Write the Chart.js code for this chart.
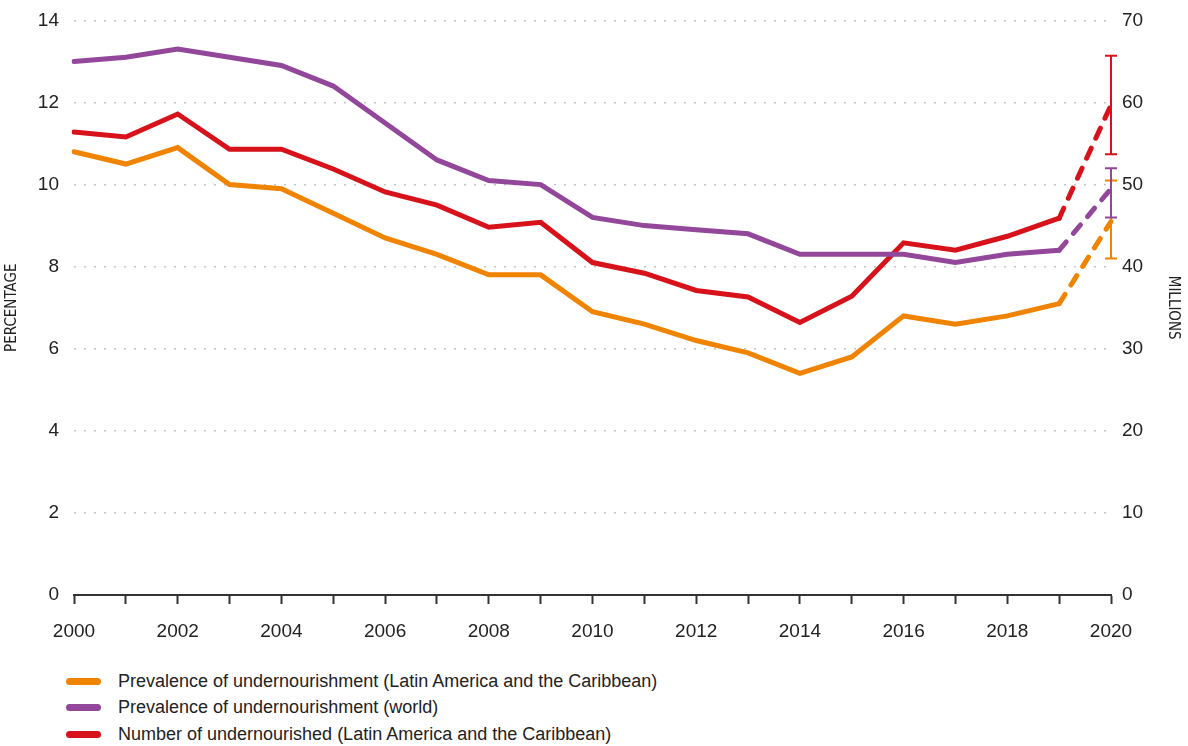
<!DOCTYPE html>
<html>
<head>
<meta charset="utf-8">
<script src="https://cdn.jsdelivr.net/npm/chart.js@4.4.1/dist/chart.umd.min.js"></script>
<style>
  body { margin: 0; background: #fff; }
  #wrap { position: relative; width: 1188px; height: 656px; margin-top: -6px; }
  #legend { position: absolute; left: 66px; top: 668px; font-family: "Liberation Sans", Arial, sans-serif; font-size: 18px; color: #222; }
  #legend div { height: 26.5px; display: flex; align-items: center; }
  #legend span.sw { display: inline-block; width: 35px; height: 7px; border-radius: 3.5px; margin-right: 17px; }
</style>
</head>
<body>
<div id="wrap"><canvas id="graph-1"></canvas></div>
<div id="legend"></div>
<script>
const graphOne = document.getElementById("graph-1");

const years = [
  "2000", "2001", "2002", "2003", "2004", "2005", "2006", "2007", "2008", "2009",
  "2010", "2011", "2012", "2013", "2014", "2015", "2016", "2017", "2018", "2019", "2020",
];

// percent, Latin America and the Caribbean
const prevalenceLac = [10.8, 10.5, 10.9, 10.0, 9.9, 9.3, 8.7, 8.3, 7.8, 7.8, 6.9, 6.6, 6.2, 5.9, 5.4, 5.8, 6.8, 6.6, 6.8, 7.1, 9.1];
// percent, world
const prevalenceWorld = [13.0, 13.1, 13.3, 13.1, 12.9, 12.4, 11.5, 10.6, 10.1, 10.0, 9.2, 9.0, 8.9, 8.8, 8.3, 8.3, 8.3, 8.1, 8.3, 8.4, 9.9];
// millions, Latin America and the Caribbean
const numberLac = [56.4, 55.8, 58.6, 54.3, 54.3, 51.9, 49.1, 47.5, 44.8, 45.4, 40.5, 39.2, 37.1, 36.3, 33.2, 36.4, 42.9, 42.0, 43.7, 45.9, 59.7];

// 2020 projection ranges [low, high]
const rangeLac = [8.2, 10.1];
const rangeWorld = [9.2, 10.4];
const rangeNumber = [53.7, 65.7];

const leftTicks = [0, 2, 4, 6, 8, 10, 12, 14];
const rightTicks = [0, 10, 20, 30, 40, 50, 60, 70];

const seriesLabels = [
  "Prevalence of undernourishment (Latin America and the Caribbean)",
  "Prevalence of undernourishment (world)",
  "Number of undernourished (Latin America and the Caribbean)",
];
const colors = ["#f08300", "#92479a", "#d7121b"];

const tickFont = { family: "'Liberation Sans', Arial, sans-serif", size: 19 };
const titleFont = { family: "'DejaVu Sans Condensed', 'Liberation Sans', Arial, sans-serif", size: 15 };

function lineDataset(label, data, color, axis, range) {
  return {
    label: label,
    data: data,
    yAxisID: axis,
    borderColor: color,
    backgroundColor: color,
    borderWidth: 5,
    pointRadius: 0,
    tension: 0,
    borderCapStyle: "round",
    borderJoinStyle: "miter",
    range: range,
    segment: {
      borderDash: (ctx) => (ctx.p1DataIndex === data.length - 1 ? [11, 11] : undefined),
    },
  };
}

const errorBars = {
  id: "errorBars",
  afterDatasetsDraw(chart) {
    const ctx = chart.ctx;
    chart.data.datasets.forEach((ds) => {
      const scale = chart.scales[ds.yAxisID];
      const x = chart.scales.x.getPixelForValue(ds.data.length - 1);
      const yLow = scale.getPixelForValue(ds.range[0]);
      const yHigh = scale.getPixelForValue(ds.range[1]);
      ctx.save();
      ctx.strokeStyle = ds.borderColor;
      ctx.lineWidth = 2;
      ctx.beginPath();
      ctx.moveTo(x, yLow);
      ctx.lineTo(x, yHigh);
      ctx.moveTo(x - 6, yLow);
      ctx.lineTo(x + 6, yLow);
      ctx.moveTo(x - 6, yHigh);
      ctx.lineTo(x + 6, yHigh);
      ctx.stroke();
      ctx.restore();
    });
  },
};

new Chart(graphOne, {
  type: "line",
  data: {
    labels: years,
    datasets: [
      lineDataset(seriesLabels[0], prevalenceLac, colors[0], "y", rangeLac),
      lineDataset(seriesLabels[1], prevalenceWorld, colors[1], "y", rangeWorld),
      lineDataset(seriesLabels[2], numberLac, colors[2], "y1", rangeNumber),
    ],
  },
  options: {
    responsive: true,
    maintainAspectRatio: false,
    animation: false,
    layout: { padding: { top: 10, left: 0, right: 0, bottom: 0 } },
    plugins: {
      legend: { display: false },
      tooltip: { enabled: false },
    },
    scales: {
      x: {
        type: "category",
        offset: false,
        afterFit: (s) => { s.height = 55; },
        border: { display: true, color: "#333", width: 2 },
        grid: { drawOnChartArea: false, drawTicks: true, tickLength: 9, tickColor: "#333", tickWidth: 2 },
        ticks: {
          autoSkip: false,
          maxRotation: 0,
          padding: 16,
          color: "#222",
          font: tickFont,
          callback: (v, i) => (i % 2 === 0 ? years[i] : ""),
        },
      },
      y: {
        position: "left",
        min: 0,
        max: 14,
        afterFit: (s) => { s.width = 74; },
        afterBuildTicks: (s) => { s.ticks = leftTicks.map((v) => ({ value: v })); },
        border: { display: false, dash: [2, 8] },
        grid: { color: "#c4c4c4", lineWidth: 1.5, drawTicks: false },
        ticks: { padding: 15, color: "#222", font: tickFont },
        title: { display: true, text: "PERCENTAGE", color: "#222", font: titleFont, padding: { top: 3, bottom: 0 } },
      },
      y1: {
        position: "right",
        min: 0,
        max: 70,
        afterFit: (s) => { s.width = 77; },
        afterBuildTicks: (s) => { s.ticks = rightTicks.map((v) => ({ value: v })); },
        border: { display: false },
        grid: { drawOnChartArea: false, drawTicks: false },
        ticks: { padding: 11, color: "#222", font: tickFont },
        title: { display: true, text: "MILLIONS", color: "#222", font: titleFont, padding: { top: 6, bottom: 0 } },
      },
    },
  },
  plugins: [errorBars],
});

const legendBox = document.getElementById("legend");
seriesLabels.forEach((label, i) => {
  const row = document.createElement("div");
  const sw = document.createElement("span");
  sw.className = "sw";
  sw.style.background = colors[i];
  row.appendChild(sw);
  row.appendChild(document.createTextNode(label));
  legendBox.appendChild(row);
});
</script>
</body>
</html>
